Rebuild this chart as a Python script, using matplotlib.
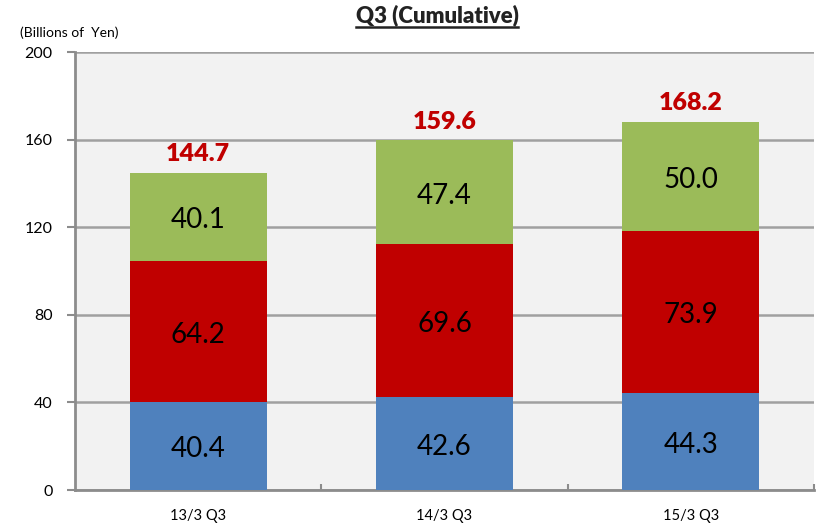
import matplotlib
matplotlib.use("Agg")
import matplotlib.pyplot as plt
import numpy as np

# Quarterly cumulative figures, billions of yen
categories = ["13/3 Q3", "14/3 Q3", "15/3 Q3"]
bottom_seg = [40.4, 42.6, 44.3]
middle_seg = [64.2, 69.6, 73.9]
top_seg = [40.1, 47.4, 50.0]
totals = [144.7, 159.6, 168.2]
y_ticks = [0, 40, 80, 120, 160, 200]

plt.rcParams["font.family"] = ["Lato", "DejaVu Sans"]

fig = plt.figure(figsize=(8.16, 5.30), dpi=100)
ax = fig.add_axes([75 / 816, 1 - 490 / 530, 739 / 816, 438 / 530])
ax.set_facecolor("#f2f2f2")

x = np.arange(len(categories))
width = 0.556
colors = ["#4f81bd", "#c00000", "#9bbb59"]

base = np.zeros(len(categories))
for seg, col in zip([bottom_seg, middle_seg, top_seg], colors):
    vals = np.array(seg)
    ax.bar(x, vals, width, bottom=base, color=col, zorder=3)
    for xi, b, v in zip(x, base, vals):
        ax.text(xi, b + v / 2 - 1.5, f"{v:.1f}", ha="center", va="center",
                fontsize=20, color="black", zorder=4)
    base = base + vals

for xi, t in zip(x, totals):
    ax.text(xi, t + 3.5, f"{t:.1f}", ha="center", va="bottom",
            fontsize=18, fontweight="heavy", color="#c00000", zorder=4)

ax.set_ylim(0, 200)
ax.set_xlim(-0.5, 2.5)
ax.set_yticks(y_ticks)
ax.set_yticklabels([str(v) for v in y_ticks], fontsize=11.5)
ax.set_xticks(x)
ax.set_xticklabels(categories, fontsize=10.5)
ax.tick_params(axis="x", length=0, pad=14)
ax.tick_params(axis="y", length=6, width=1.5, color="#8c8c8c", pad=10)
ax.set_xticks([0.5, 1.5, 2.5], minor=True)
ax.tick_params(axis="x", which="minor", direction="in", length=4,
               width=1.5, color="#8c8c8c")

ax.grid(axis="y", color="#a0a0a0", linewidth=1.8, zorder=1)
for side in ["top", "right"]:
    ax.spines[side].set_visible(False)
for side in ["left", "bottom"]:
    ax.spines[side].set_color("#8c8c8c")
    ax.spines[side].set_linewidth(2)

fig.text(20 / 816, 1 - 33 / 530, "(Billions of  Yen)", fontsize=10,
         ha="left", va="center")
title = fig.text(437 / 816, 1 - 15 / 530, "Q3 (Cumulative)", fontsize=16,
                 fontweight="heavy", ha="center", va="center", color="#222222")

# underline spanning the title's rendered width
fig.canvas.draw()
bb = title.get_window_extent().transformed(fig.transFigure.inverted())
fig.add_artist(plt.Line2D([bb.x0, bb.x1], [1 - 27 / 530, 1 - 27 / 530],
                          color="#222222", linewidth=1.8))

fig.savefig("out.png", dpi=100)
